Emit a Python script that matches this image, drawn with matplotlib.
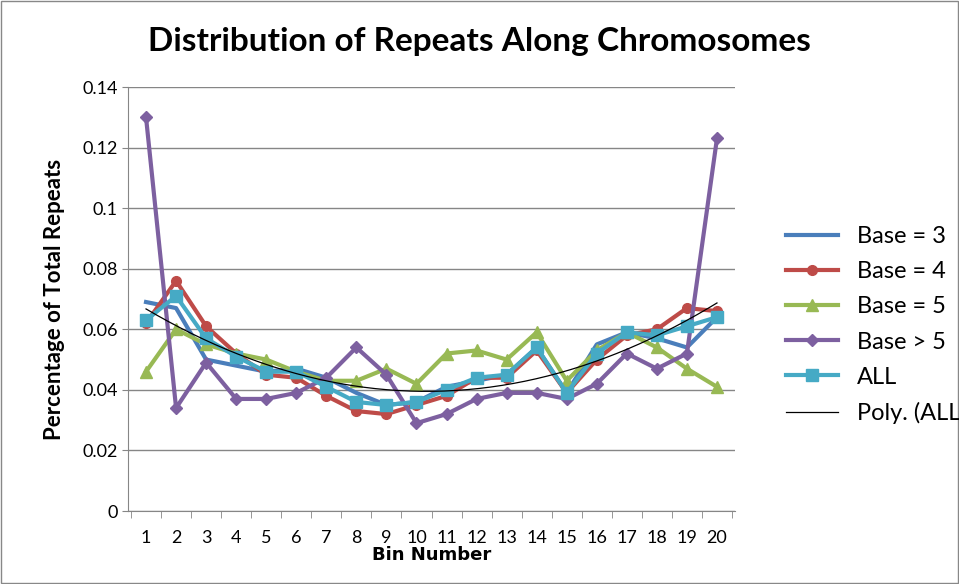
import matplotlib
matplotlib.use("Agg")
import matplotlib.pyplot as plt
import numpy as np

plt.rcParams['font.family'] = ['Lato', 'DejaVu Sans']

bins = list(range(1, 21))
base3 = [0.069,0.067,0.050,0.048,0.046,0.047,0.044,0.039,0.035,0.036,0.041,0.043,0.045,0.054,0.039,0.055,0.059,0.057,0.054,0.064]
base4 = [0.062,0.076,0.061,0.052,0.045,0.044,0.038,0.033,0.032,0.035,0.038,0.044,0.044,0.053,0.039,0.050,0.058,0.060,0.067,0.066]
base5 = [0.046,0.060,0.055,0.052,0.050,0.046,0.043,0.043,0.047,0.042,0.052,0.053,0.050,0.059,0.043,0.053,0.059,0.054,0.047,0.041]
base6 = [0.130,0.034,0.049,0.037,0.037,0.039,0.044,0.054,0.045,0.029,0.032,0.037,0.039,0.039,0.037,0.042,0.052,0.047,0.052,0.123]
allv  = [0.063,0.071,0.057,0.051,0.046,0.046,0.041,0.036,0.035,0.036,0.040,0.044,0.045,0.054,0.039,0.052,0.059,0.058,0.061,0.064]

fig = plt.figure(figsize=(9.59, 5.84), dpi=100)
fig.patches.append(plt.Rectangle((0.001,0.001),0.998,0.997,transform=fig.transFigure,fill=False,ec='#888888',lw=1))
ax = fig.add_axes([128/959, 1-511/584, (735-128)/959, (511-87)/584])
x = np.array(bins)
ax.plot(x, base3, color='#4a7ebb', lw=3, label='Base = 3')
ax.plot(x, base4, color='#be4b48', lw=3, marker='o', ms=7, label='Base = 4')
ax.plot(x, base5, color='#98b954', lw=3, marker='^', ms=8, label='Base = 5')
ax.plot(x, base6, color='#7d60a0', lw=3, marker='D', ms=6, label='Base > 5')
ax.plot(x, allv, color='#46aac5', lw=3, marker='s', ms=8, label='ALL')
c = np.polyfit(x, allv, 2)
xs = np.linspace(1, 20, 200)
ax.plot(xs, np.polyval(c, xs), color='black', lw=0.9, label='Poly. (ALL)')

ax.set_xlim(0.4, 20.6)
ax.set_ylim(0, 0.14)
ax.set_xticks(bins)
ax.set_yticks(np.arange(0, 0.141, 0.02))
ax.set_yticklabels(['0','0.02','0.04','0.06','0.08','0.1','0.12','0.14'])
ax.yaxis.grid(True, color='#868686', lw=1)
ax.set_axisbelow(True)
for s in ['top','right']:
    ax.spines[s].set_visible(False)
for s in ['left','bottom']:
    ax.spines[s].set_color('#868686')
ax.tick_params(axis='x', length=0, labelsize=13, pad=14)
ax.tick_params(axis='y', length=4, color='#868686', labelsize=13)
ax.set_xticks(np.arange(0.5, 21, 1), minor=True)
ax.tick_params(axis='x', which='minor', length=5, color='#868686', direction='out')
ax.set_xlabel('Bin Number', fontsize=13, fontweight='bold', labelpad=0, family=['DejaVu Sans'])
ax.set_ylabel('Percentage of Total Repeats', fontsize=16, fontweight='bold', labelpad=12)
fig.text(0.5, 1-42/584, 'Distribution of Repeats Along Chromosomes', ha='center', va='center', fontsize=24, fontweight='bold')
fig.legend(loc='center left', bbox_to_anchor=(765/959, 1-325/584), frameon=False, fontsize=17, handlelength=2.2, labelspacing=0.6)
fig.savefig('out.png', dpi=100)
